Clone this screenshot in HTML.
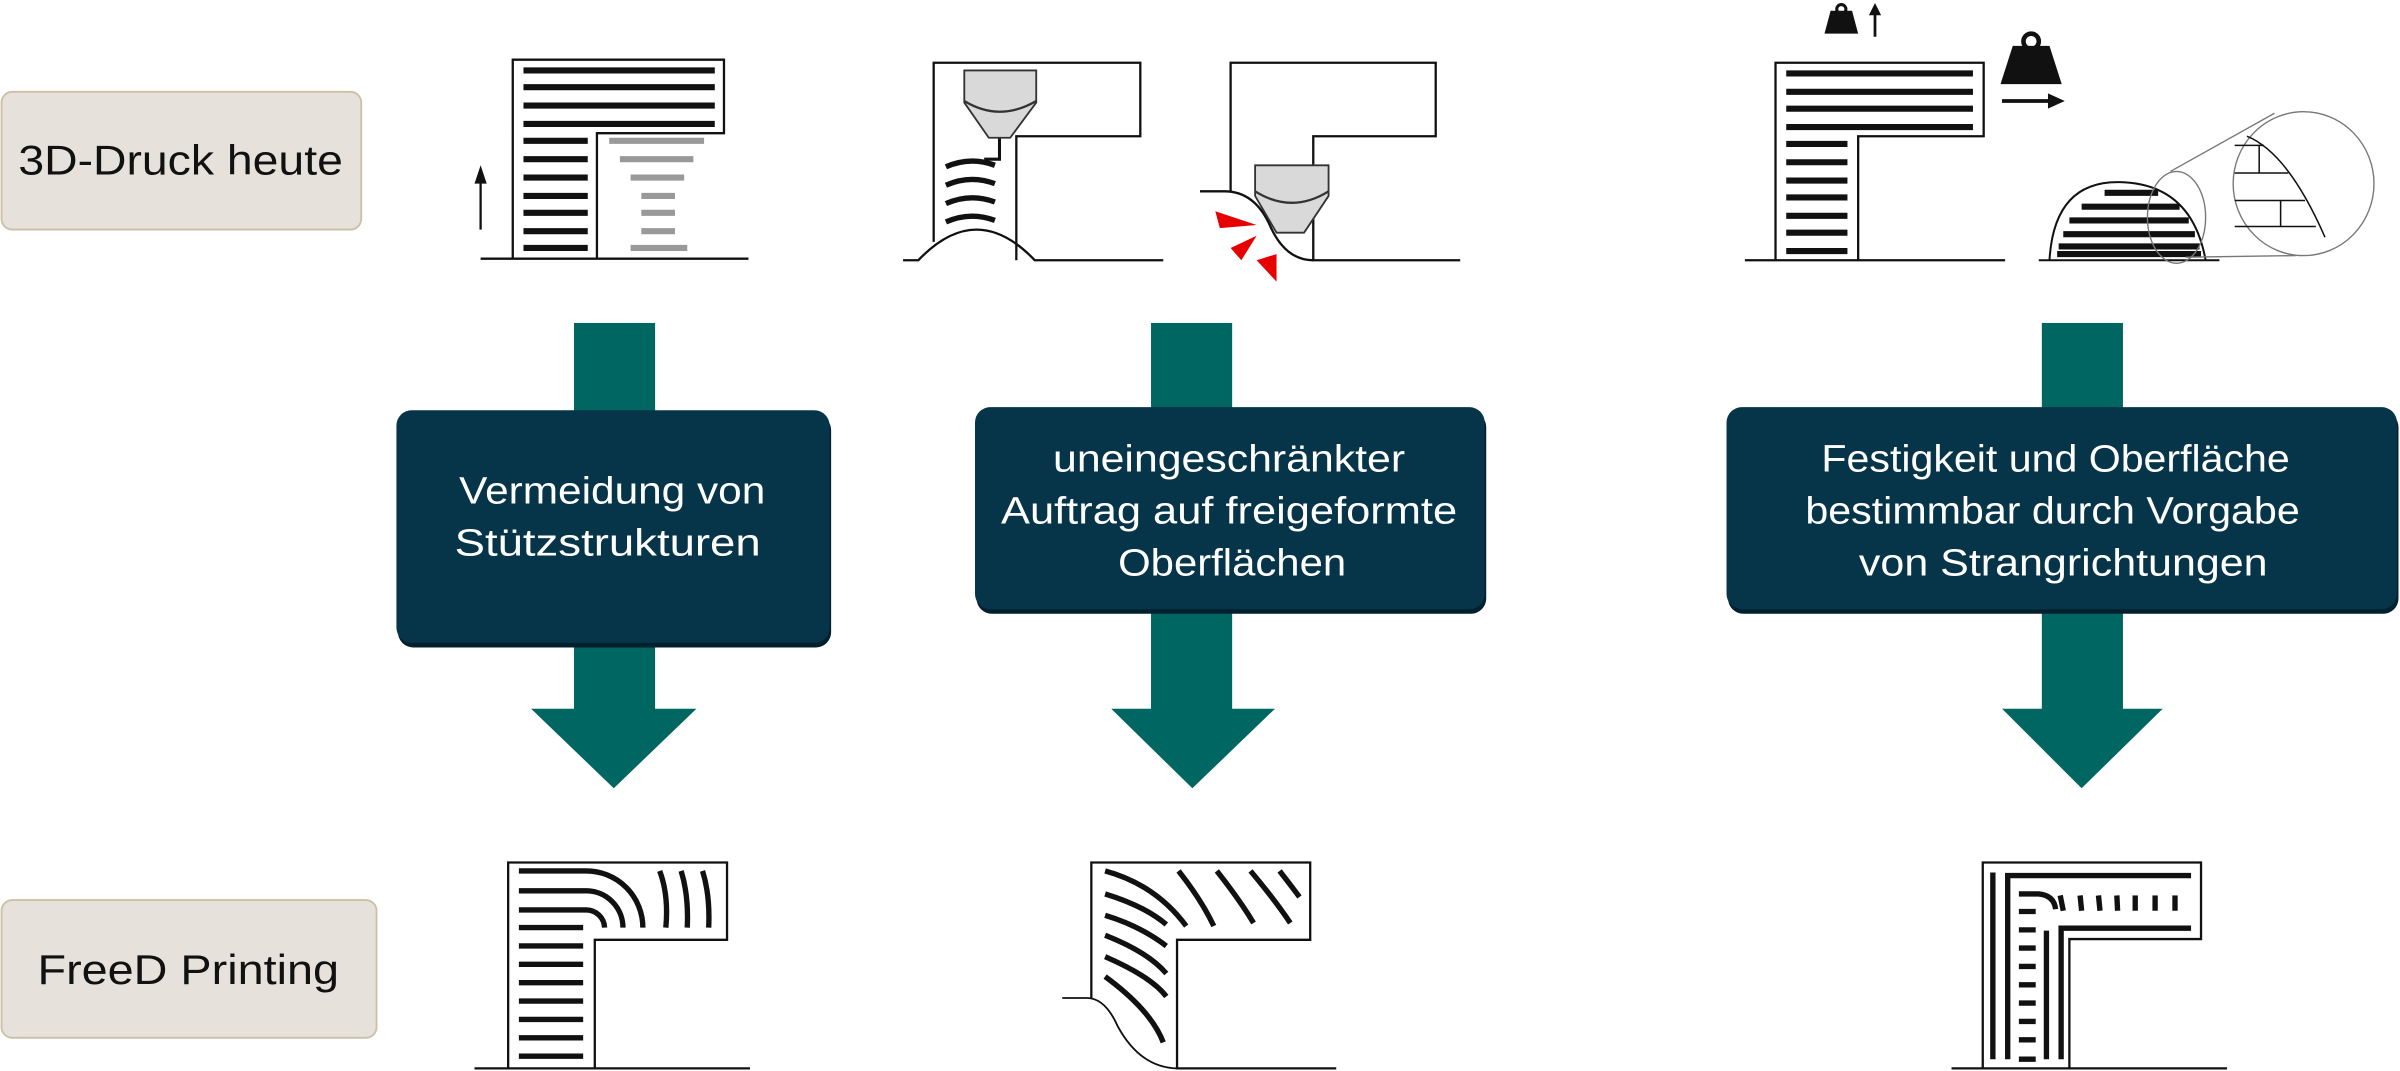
<!DOCTYPE html>
<html><head><meta charset="utf-8"><style>
html,body{margin:0;padding:0;background:#fff;}
svg{display:block;}
text{font-family:"Liberation Sans",sans-serif;}
</style></head><body>
<svg width="2400" height="1071" viewBox="0 0 1568 699.7" preserveAspectRatio="none" xmlns="http://www.w3.org/2000/svg">
<rect width="1568" height="700" fill="#fff"/>
<!-- Side labels -->
<rect x="1" y="60" width="235" height="90" rx="7" fill="#e6e2db" stroke="#cbbfa6" stroke-width="1.2"/>
<text x="118" y="114" font-size="27" text-anchor="middle" fill="#111" textLength="212" lengthAdjust="spacingAndGlyphs">3D-Druck heute</text>
<rect x="1" y="588" width="245" height="90" rx="7" fill="#e6e2db" stroke="#cbbfa6" stroke-width="1.2"/>
<text x="123" y="643" font-size="27" text-anchor="middle" fill="#111" textLength="197" lengthAdjust="spacingAndGlyphs">FreeD Printing</text>

<!-- Arrows -->
<g fill="#006661">
<rect x="375" y="211" width="53" height="254"/><polygon points="347,463 455,463 401,515"/>
<rect x="752" y="211" width="53" height="254"/><polygon points="726,463 833,463 779,515"/>
<rect x="1334" y="211" width="53" height="254"/><polygon points="1308,463 1413,463 1360,515"/>
</g>
<!-- Boxes -->
<g fill="#02202e">
<rect x="260" y="271" width="283" height="152" rx="10"/>
<rect x="638" y="269" width="333" height="132" rx="10"/>
<rect x="1129" y="269" width="438" height="132" rx="10"/>
</g>
<g fill="#063549">
<rect x="259" y="268" width="283" height="152" rx="10"/>
<rect x="637" y="266" width="333" height="132" rx="10"/>
<rect x="1128" y="266" width="438" height="132" rx="10"/>
</g>
<g fill="#fff" font-size="25" text-anchor="middle">
<text x="400" y="329" textLength="200" lengthAdjust="spacingAndGlyphs">Vermeidung von</text>
<text x="397" y="363" textLength="200" lengthAdjust="spacingAndGlyphs">Stützstrukturen</text>
<text x="803" y="308" textLength="230" lengthAdjust="spacingAndGlyphs">uneingeschränkter</text>
<text x="803" y="342" textLength="298" lengthAdjust="spacingAndGlyphs">Auftrag auf freigeformte</text>
<text x="805" y="376" textLength="149" lengthAdjust="spacingAndGlyphs">Oberflächen</text>
<text x="1343" y="308" textLength="306" lengthAdjust="spacingAndGlyphs">Festigkeit und Oberfläche</text>
<text x="1341" y="342" textLength="323" lengthAdjust="spacingAndGlyphs">bestimmbar durch Vorgabe</text>
<text x="1348" y="376" textLength="267" lengthAdjust="spacingAndGlyphs">von Strangrichtungen</text>
</g>

<!-- Top col1 -->
<g stroke="#111" fill="none" stroke-width="1.5">
<path d="M335,169 V39 H473 V87 H390 V169"/>
<line x1="314" y1="169" x2="489" y2="169"/>
<line x1="314" y1="150" x2="314" y2="118"/>
</g>
<polygon points="310,120 318,120 314,108" fill="#111"/>
<g stroke="#111" stroke-width="4">
<line x1="342" y1="46" x2="467" y2="46"/><line x1="342" y1="57" x2="467" y2="57"/>
<line x1="342" y1="69" x2="467" y2="69"/><line x1="342" y1="81" x2="467" y2="81"/>
<line x1="342" y1="92" x2="384" y2="92"/><line x1="342" y1="104" x2="384" y2="104"/>
<line x1="342" y1="116" x2="384" y2="116"/><line x1="342" y1="128" x2="384" y2="128"/>
<line x1="342" y1="139" x2="384" y2="139"/><line x1="342" y1="151" x2="384" y2="151"/>
<line x1="342" y1="162" x2="384" y2="162"/>
</g>
<g stroke="#999" stroke-width="4">
<line x1="398" y1="92" x2="460" y2="92"/><line x1="405" y1="104" x2="453" y2="104"/>
<line x1="412" y1="116" x2="447" y2="116"/><line x1="419" y1="128" x2="441" y2="128"/>
<line x1="419" y1="139" x2="441" y2="139"/><line x1="419" y1="151" x2="441" y2="151"/>
<line x1="412" y1="162" x2="449" y2="162"/>
</g>

<!-- Top col2 a -->
<g stroke="#111" fill="none" stroke-width="1.5">
<path d="M610,158 V41 H745 V89 H664 V170"/>
<path d="M590,170 H600 Q638,130 676,170 H760"/>
<path d="M653,90 V104 H643" stroke-width="2"/>
</g>
<path d="M630,46 V67 L646,90 H660 L677,67 V46 Z" fill="#d9d9d9" stroke="#333" stroke-width="1.2"/>
<path d="M630,66 Q653,80 677,66" fill="none" stroke="#333" stroke-width="1.5"/>
<g stroke="#111" stroke-width="3.5" fill="none">
<path d="M618,109 Q634,102 650,108"/><path d="M618,121 Q634,114 650,120"/>
<path d="M618,133 Q634,126 650,132"/><path d="M618,145 Q634,138 650,144"/>
</g>

<!-- Top col2 b -->
<g stroke="#111" fill="none" stroke-width="1.5">
<path d="M804,125 V41 H938 V89 H858 V170 H954"/>
<path d="M784,125 H800 Q820,125 830,148 Q840,170 858,170"/>
</g>
<path d="M820,108 V128 L834,152 H852 L868,128 V108 Z" fill="#d9d9d9" stroke="#333" stroke-width="1.2"/>
<path d="M820,125 Q844,140 868,125" fill="none" stroke="#333" stroke-width="1.5"/>
<g fill="#e60000">
<polygon points="794,138 821,147 797,149"/>
<polygon points="804,162 821,154 811,170"/>
<polygon points="821,170 834,166 834,184"/>
</g>

<!-- Top col3 a -->
<g stroke="#111" fill="none" stroke-width="1.5">
<path d="M1160,170 V41 H1296 V89 H1214 V170"/>
<line x1="1140" y1="170" x2="1310" y2="170"/>
<line x1="1225" y1="24" x2="1225" y2="8" stroke-width="1.8"/>
<line x1="1308" y1="66" x2="1340" y2="66" stroke-width="2.5"/>
</g>
<polygon points="1221,10 1229,10 1225,2" fill="#111"/>
<polygon points="1338,61 1349,66 1338,71" fill="#111"/>
<path d="M1192,22 L1196,7 H1210 L1214,22 Z" fill="#111"/>
<circle cx="1203" cy="6" r="3" fill="none" stroke="#111" stroke-width="2"/>
<path d="M1307,55 L1315,30 H1339 L1347,55 Z" fill="#111"/>
<circle cx="1327" cy="27" r="5" fill="none" stroke="#111" stroke-width="3"/>
<g stroke="#111" stroke-width="4">
<line x1="1167" y1="48" x2="1289" y2="48"/><line x1="1167" y1="60" x2="1289" y2="60"/>
<line x1="1167" y1="71" x2="1289" y2="71"/><line x1="1167" y1="83" x2="1289" y2="83"/>
<line x1="1167" y1="94" x2="1207" y2="94"/><line x1="1167" y1="106" x2="1207" y2="106"/>
<line x1="1167" y1="118" x2="1207" y2="118"/><line x1="1167" y1="129" x2="1207" y2="129"/>
<line x1="1167" y1="141" x2="1207" y2="141"/><line x1="1167" y1="152" x2="1207" y2="152"/>
<line x1="1167" y1="164" x2="1207" y2="164"/>
</g>
<!-- Top col3 b dome -->
<g stroke="#111" fill="none" stroke-width="1.3">
<path d="M1339,170 Q1342,118 1385,119 Q1432,120 1441,170"/>
<line x1="1332" y1="170" x2="1450" y2="170"/>
</g>
<g stroke="#111" stroke-width="4">
<line x1="1375" y1="126" x2="1410" y2="126"/>
<line x1="1360" y1="135" x2="1424" y2="135"/>
<line x1="1352" y1="144" x2="1430" y2="144"/>
<line x1="1348" y1="153" x2="1434" y2="153"/>
<line x1="1345" y1="161" x2="1437" y2="161"/>
<line x1="1344" y1="166" x2="1438" y2="166"/>
</g>
<g stroke="#777" fill="none" stroke-width="0.9">
<ellipse cx="1422" cy="142" rx="19" ry="30"/>
<line x1="1418" y1="112" x2="1486" y2="74"/>
<line x1="1428" y1="168" x2="1500" y2="167"/>
<ellipse cx="1505" cy="120" rx="46" ry="47"/>
</g>
<g stroke="#111" fill="none" stroke-width="1">
<path d="M1468,89 Q1495,100 1519,155"/>
<line x1="1460" y1="95" x2="1479" y2="95"/>
<line x1="1460" y1="113" x2="1495" y2="113"/>
<line x1="1460" y1="131" x2="1506" y2="131"/>
<line x1="1460" y1="148" x2="1513" y2="148"/>
<line x1="1476" y1="95" x2="1476" y2="113"/>
<line x1="1490" y1="131" x2="1490" y2="148"/>
</g>

<!-- Bottom col1 -->
<g stroke="#111" fill="none" stroke-width="1.5">
<path d="M332,698 V563.5 H475 V614 H388.6 V698"/>
<line x1="310" y1="698" x2="490" y2="698"/>
</g>
<g stroke="#111" stroke-width="3.5" fill="none">
<path d="M339,569 H383 A37,37 0 0 1 420,606"/>
<path d="M339,582 H383 A24,24 0 0 1 407,606"/>
<path d="M339,594.5 H383 A12,12 0 0 1 395,606"/>
<path d="M431,569 Q437,585 435,606"/>
<path d="M445,569 Q450,585 449,606"/>
<path d="M459,569 Q464,585 463,606"/>
<line x1="339" y1="606" x2="381" y2="606"/><line x1="339" y1="618" x2="381" y2="618"/>
<line x1="339" y1="630" x2="381" y2="630"/><line x1="339" y1="642" x2="381" y2="642"/>
<line x1="339" y1="654" x2="381" y2="654"/><line x1="339" y1="666" x2="381" y2="666"/>
<line x1="339" y1="678" x2="381" y2="678"/><line x1="339" y1="690" x2="381" y2="690"/>
</g>

<!-- Bottom col2 -->
<g stroke="#111" fill="none" stroke-width="1.5">
<path d="M713,652 V563.5 H856 V614 H769 V698 H873"/>
<path d="M694,652 H710 Q722,652 730,670 Q745,698 770,698" stroke-width="1.2"/>
</g>
<g stroke="#111" stroke-width="3.5" fill="none">
<path d="M722,569 Q755,578 775,605"/>
<path d="M722,584 Q748,592 762,604"/>
<path d="M722,598 Q745,605 762,618"/>
<path d="M722,611 Q750,622 762,636"/>
<path d="M722,625 Q752,638 762,651"/>
<path d="M722,638 Q752,660 760,681"/>
<path d="M770,569 Q785,588 793,605"/>
<path d="M795,569 Q810,588 819,603"/>
<path d="M817,569 Q833,588 843,603"/>
<path d="M836,569 Q843,578 849,586"/>
</g>

<!-- Bottom col3 -->
<g stroke="#111" fill="none" stroke-width="1.5">
<path d="M1295.4,698 V563.5 H1438 V613.5 H1352 V698"/>
<line x1="1275" y1="698" x2="1455" y2="698"/>
</g>
<g stroke="#111" stroke-width="3.5" fill="none">
<line x1="1302" y1="570" x2="1302" y2="692"/>
<path d="M1311.7,692 V572 H1431.5"/>
<line x1="1337" y1="608" x2="1337" y2="692"/>
<path d="M1346.6,692 V606.4 H1431.5"/>
<path d="M1319,584 H1332 Q1342,585 1343,594"/>
<line x1="1319" y1="595.5" x2="1330" y2="595.5"/><line x1="1319" y1="607.5" x2="1330" y2="607.5"/>
<line x1="1319" y1="619.4" x2="1330" y2="619.4"/><line x1="1319" y1="631.4" x2="1330" y2="631.4"/>
<line x1="1319" y1="643.4" x2="1330" y2="643.4"/><line x1="1319" y1="655.3" x2="1330" y2="655.3"/>
<line x1="1319" y1="667.3" x2="1330" y2="667.3"/><line x1="1319" y1="679.3" x2="1330" y2="679.3"/>
<line x1="1319" y1="692" x2="1330" y2="692"/>
<line x1="1346" y1="585" x2="1348" y2="595"/><line x1="1359" y1="585" x2="1360" y2="595"/>
<line x1="1371" y1="585" x2="1372" y2="595"/><line x1="1383" y1="585" x2="1383.5" y2="595"/>
<line x1="1395" y1="585" x2="1395" y2="595"/><line x1="1408" y1="585" x2="1408" y2="595"/>
<line x1="1421" y1="585" x2="1421" y2="595"/>
</g>
</svg>
</body></html>
